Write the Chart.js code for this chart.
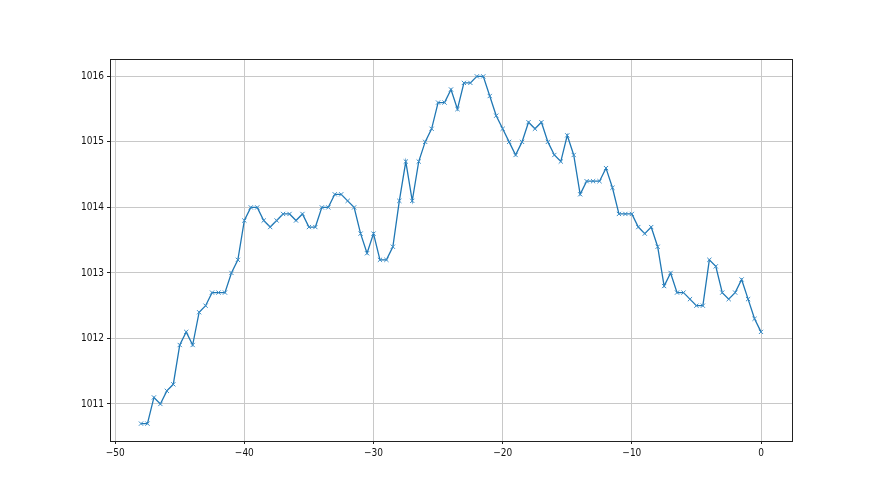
<!DOCTYPE html>
<html>
<head>
<meta charset="utf-8">
<script src="https://cdn.jsdelivr.net/npm/chart.js@4/dist/chart.umd.min.js"></script>
<style>
html,body{margin:0;padding:0;background:#fff;}
#wrap{width:880px;height:495px;position:relative;}
</style>
</head>
<body>
<div id="wrap"><canvas id="c" width="880" height="495"></canvas></div>
<script>
// x positions (hours), step 0.5 from -48 to 0
const xValues = [
-48,-47.5,-47,-46.5,-46,-45.5,-45,-44.5,-44,-43.5,-43,-42.5,-42,-41.5,-41,-40.5,
-40,-39.5,-39,-38.5,-38,-37.5,-37,-36.5,-36,-35.5,-35,-34.5,-34,-33.5,-33,-32.5,
-32,-31.5,-31,-30.5,-30,-29.5,-29,-28.5,-28,-27.5,-27,-26.5,-26,-25.5,-25,-24.5,
-24,-23.5,-23,-22.5,-22,-21.5,-21,-20.5,-20,-19.5,-19,-18.5,-18,-17.5,-17,-16.5,
-16,-15.5,-15,-14.5,-14,-13.5,-13,-12.5,-12,-11.5,-11,-10.5,-10,-9.5,-9,-8.5,
-8,-7.5,-7,-6.5,-6,-5.5,-5,-4.5,-4,-3.5,-3,-2.5,-2,-1.5,-1,-0.5,0
];
const pressure = [
1010.7,1010.7,1011.1,1011.0,1011.2,1011.3,1011.9,1012.1,1011.9,1012.4,1012.5,1012.7,1012.7,1012.7,1013.0,1013.2,
1013.8,1014.0,1014.0,1013.8,1013.7,1013.8,1013.9,1013.9,1013.8,1013.9,1013.7,1013.7,1014.0,1014.0,1014.2,1014.2,
1014.1,1014.0,1013.6,1013.3,1013.6,1013.2,1013.2,1013.4,1014.1,1014.7,1014.1,1014.7,1015.0,1015.2,1015.6,1015.6,
1015.8,1015.5,1015.9,1015.9,1016.0,1016.0,1015.7,1015.4,1015.2,1015.0,1014.8,1015.0,1015.3,1015.2,1015.3,1015.0,
1014.8,1014.7,1015.1,1014.8,1014.2,1014.4,1014.4,1014.4,1014.6,1014.3,1013.9,1013.9,1013.9,1013.7,1013.6,1013.7,
1013.4,1012.8,1013.0,1012.7,1012.7,1012.6,1012.5,1012.5,1013.2,1013.1,1012.7,1012.6,1012.7,1012.9,1012.6,1012.3,1012.1
];
const xTicks = [-50,-40,-30,-20,-10,0];
const yTicks = [1011,1012,1013,1014,1015,1016];

const points = xValues.map((x,i)=>({x:x, y:pressure[i]}));
const fmt = v => (v < 0 ? '\u2212' + Math.abs(v) : String(v));
const tickFont = {family:"'Liberation Sans Narrow', 'DejaVu Sans Condensed', sans-serif", size:10};

const framePlugin = {
  id:'frame',
  afterDatasetsDraw(chart){
    const a = chart.chartArea, ctx = chart.ctx;
    ctx.save();
    ctx.strokeStyle = '#222';
    ctx.lineWidth = 1;
    ctx.strokeRect(Math.round(a.left)+0.5, Math.round(a.top)+0.5, Math.round(a.right-a.left), Math.round(a.bottom-a.top));
    ctx.restore();
  }
};

new Chart(document.getElementById('c'), {
  type:'line',
  data:{
    datasets:[{
      data:points,
      borderColor:'#1f77b4',
      backgroundColor:'#1f77b4',
      borderWidth:1.3,
      pointStyle:'crossRot',
      pointRadius:3,
      pointBorderWidth:1,
      pointBorderColor:'#3a8cc6',
      tension:0,
      fill:false
    }]
  },
  options:{
    responsive:false,
    animation:false,
    events:[],
    layout:{padding:{left:0,right:88,top:59,bottom:29}},
    plugins:{legend:{display:false},tooltip:{enabled:false},title:{display:false}},
    scales:{
      x:{
        type:'linear',
        min:-50.4, max:2.4,
        afterBuildTicks(s){ s.ticks = xTicks.map(v=>({value:v})); },
        afterFit(s){ s.height = 25; },
        grid:{color:'#c8c8c8', lineWidth:1, tickColor:'#222', tickLength:3, drawTicks:true},
        border:{display:false},
        ticks:{color:'#111', font:tickFont, padding:3, maxRotation:0, callback:fmt}
      },
      y:{
        type:'linear',
        min:1010.435, max:1016.265,
        afterBuildTicks(s){ s.ticks = yTicks.map(v=>({value:v})); },
        afterFit(s){ s.width = 110; },
        grid:{color:'#c8c8c8', lineWidth:1, tickColor:'#222', tickLength:3, drawTicks:true},
        border:{display:false},
        ticks:{color:'#111', font:tickFont, padding:3, callback:v=>String(v)}
      }
    }
  },
  plugins:[framePlugin]
});
</script>
</body>
</html>
